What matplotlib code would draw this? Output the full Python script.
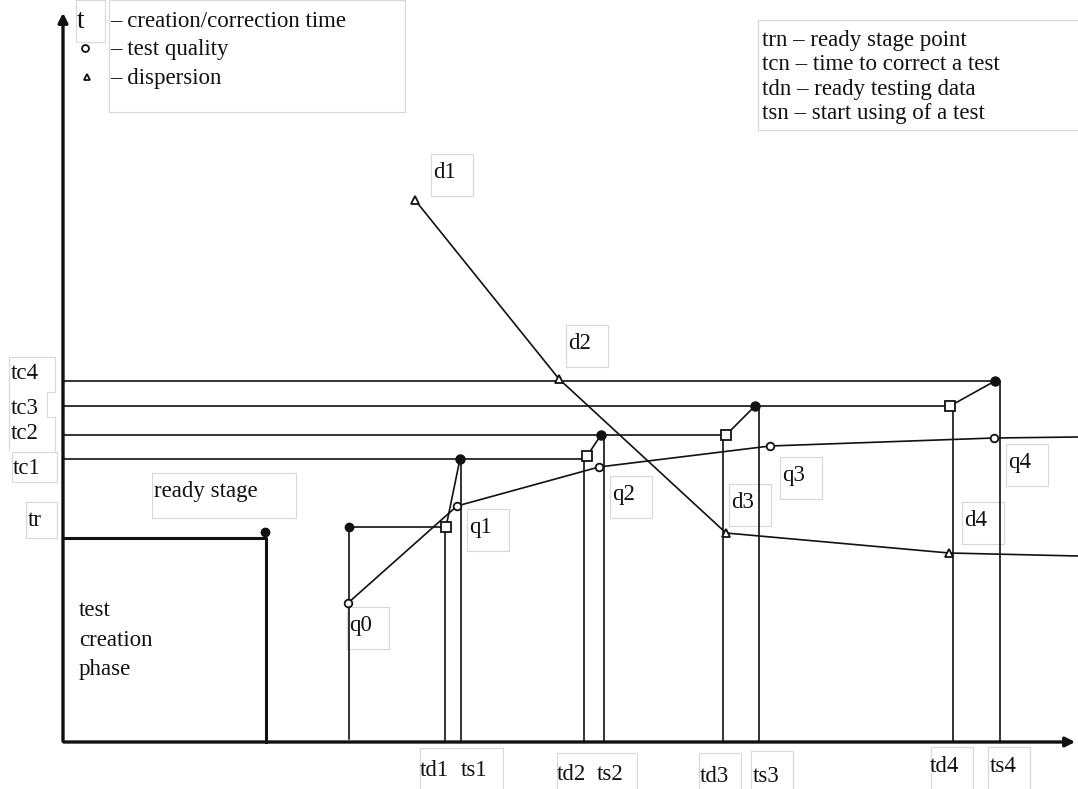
import matplotlib.pyplot as plt
from matplotlib.patches import Rectangle

# diagram is drawn in picture units: x to the right, t (y) downwards flipped
plt.rcParams['font.family'] = ['Liberation Serif', 'DejaVu Serif']

# time marks on the x axis
td_x = [445, 584, 723, 953]   # ready testing data
ts_x = [461, 604, 759, 1000]  # start using of a test
td_names = ['td1', 'td2', 'td3', 'td4']
ts_names = ['ts1', 'ts2', 'ts3', 'ts4']

# creation / correction time levels
tr_y = 527
tc_y = [459, 435, 406, 381]
tc_names = ['tc1', 'tc2', 'tc3', 'tc4']
sq_y = [527, 456, 435, 406]   # squares at td points
dot_y = [459, 435, 406, 381]  # dots at ts points
dot_x = [460, 601, 755, 995]
sq_x = [446, 587, 726, 950]

# test quality
q_x = [348, 457, 599, 770, 994]
q_y = [603, 506, 467, 446, 438]
q_names = ['q0', 'q1', 'q2', 'q3', 'q4']
q_lab = [(349, 625), (469, 527), (612, 494), (782, 475), (1008, 462)]

# dispersion
d_x = [415, 559, 726, 949]
d_y = [200, 379, 533, 553]
d_names = ['d1', 'd2', 'd3', 'd4']
d_lab = [(433, 172), (568, 343), (731, 502), (964, 520)]

W, H = 1078, 789
fig = plt.figure(figsize=(W / 100, H / 100), dpi=100)
ax = fig.add_axes([0, 0, 1, 1])
ax.set_xlim(0, W)
ax.set_ylim(H, 0)
ax.axis('off')

k = '#111111'
grey = '#d8d8d8'
fs = 16.5

def label(x, y, s, w=42, h=42, dx=-2, dy=-18):
    ax.add_patch(Rectangle((x + dx, y + dy), w, h, fill=False, ec=grey, lw=0.8))
    ax.text(x, y, s, fontsize=fs, va='center', ha='left', color=k)

# axes with arrows
ax.annotate('', xy=(63, 10), xytext=(63, 744),
            arrowprops=dict(arrowstyle='-|>', lw=2.4, color=k, mutation_scale=14))
ax.annotate('', xy=(1078, 742), xytext=(61, 742),
            arrowprops=dict(arrowstyle='-|>', lw=2.4, color=k, mutation_scale=14))

# test creation phase
ax.plot([63, 266, 266], [538, 538, 742], color=k, lw=2.2)
ax.plot(265, 532, 'o', color=k, ms=6)
ax.text(79, 640, 'test\ncreation\nphase', fontsize=fs, va='center', ha='left',
        linespacing=1.55, color=k)
label(154, 491, 'ready stage', w=144, h=45)

# tr level
ax.plot([349, sq_x[0]], [tr_y, tr_y], color=k, lw=1.2)
ax.plot([349, 349], [tr_y, 739], color=k, lw=1.2)
ax.plot(349, tr_y, 'o', color=k, ms=6)
label(28, 520, 'tr', w=31, h=36)

# tc levels: line from y axis to the next square
for i in range(4):
    end = sq_x[i + 1] if i < 3 else dot_x[3]
    ax.plot([63, end], [tc_y[i], tc_y[i]], color=k, lw=1.2)
tc_lab_y = [468, 433, 408, 373]
for i, name in enumerate(tc_names):
    ax.text(11 if i > 0 else 13, tc_lab_y[i], name, fontsize=fs, va='center', color=k)
ax.plot([55, 9, 9], [357, 357, 450], color=grey, lw=0.8)
ax.plot([55, 55, 47, 47, 55, 55], [357, 392, 392, 417, 417, 452], color=grey, lw=0.8)
ax.add_patch(Rectangle((12, 452), 45, 30, fill=False, ec=grey, lw=0.8))

# vertical td / ts lines and the correction steps
for i in range(4):
    ax.plot([td_x[i], td_x[i]], [sq_y[i], 742], color=k, lw=1.2)
    ax.plot([ts_x[i], ts_x[i]], [dot_y[i], 742], color=k, lw=1.2)
    ax.plot([sq_x[i], dot_x[i]], [sq_y[i], dot_y[i]], color=k, lw=1.2)
    ax.plot(sq_x[i], sq_y[i], 's', mfc='white', mec=k, ms=7, mew=1.3)
    ax.plot(dot_x[i], dot_y[i], 'o', color=k, ms=6.5)

# x tick labels
td_lab = [(420, 770), (557, 774), (700, 776), (930, 766)]
ts_lab = [(461, 770), (597, 774), (753, 776), (990, 766)]
ax.add_patch(Rectangle((420, 748), 83, 45, fill=False, ec=grey, lw=0.8))
ax.add_patch(Rectangle((557, 753), 80, 40, fill=False, ec=grey, lw=0.8))
for i in range(4):
    ax.text(td_lab[i][0], td_lab[i][1], td_names[i], fontsize=fs, va='center', color=k)
    ax.text(ts_lab[i][0], ts_lab[i][1], ts_names[i], fontsize=fs, va='center', color=k)
for x0, y0 in [(699, 753), (751, 751), (931, 747), (988, 747)]:
    ax.add_patch(Rectangle((x0, y0), 42, 45, fill=False, ec=grey, lw=0.8))

# quality curve
ax.plot(q_x + [1078], q_y + [437], color=k, lw=1.2)
ax.plot(q_x, q_y, 'o', mfc='white', mec=k, ms=5.5, mew=1.3)
for (x, y), name in zip(q_lab, q_names):
    label(x, y, name)

# dispersion curve
ax.plot(d_x + [1078], d_y + [556], color=k, lw=1.2)
ax.plot(d_x, d_y, '^', mfc='white', mec=k, ms=5.5, mew=1.3)
for (x, y), name in zip(d_lab, d_names):
    label(x, y, name)

# legend top left
ax.add_patch(Rectangle((76, 0), 29, 42, fill=False, ec=grey, lw=0.8))
ax.add_patch(Rectangle((109, 0), 296, 112, fill=False, ec=grey, lw=0.8))
ax.text(77, 21, 't', fontsize=20, va='center', color=k)
ax.plot(85, 48, 'o', mfc='white', mec=k, ms=5, mew=1.3)
ax.plot(87, 77, '^', mfc='white', mec=k, ms=5, mew=1.3)
ax.text(110, 21, '\u2013 creation/correction time', fontsize=fs, va='center', color=k)
ax.text(110, 49, '\u2013 test quality', fontsize=fs, va='center', color=k)
ax.text(110, 78, '\u2013 dispersion', fontsize=fs, va='center', color=k)

# legend top right
ax.add_patch(Rectangle((758, 20), 330, 110, fill=False, ec=grey, lw=0.8))
notes = ['trn \u2013 ready stage point', 'tcn \u2013 time to correct a test',
         'tdn \u2013 ready testing data', 'tsn \u2013 start using of a test']
for i, s in enumerate(notes):
    ax.text(762, 40 + 24.5 * i, s, fontsize=fs, va='center', color=k)

fig.savefig('out.png', dpi=100, facecolor='white')
